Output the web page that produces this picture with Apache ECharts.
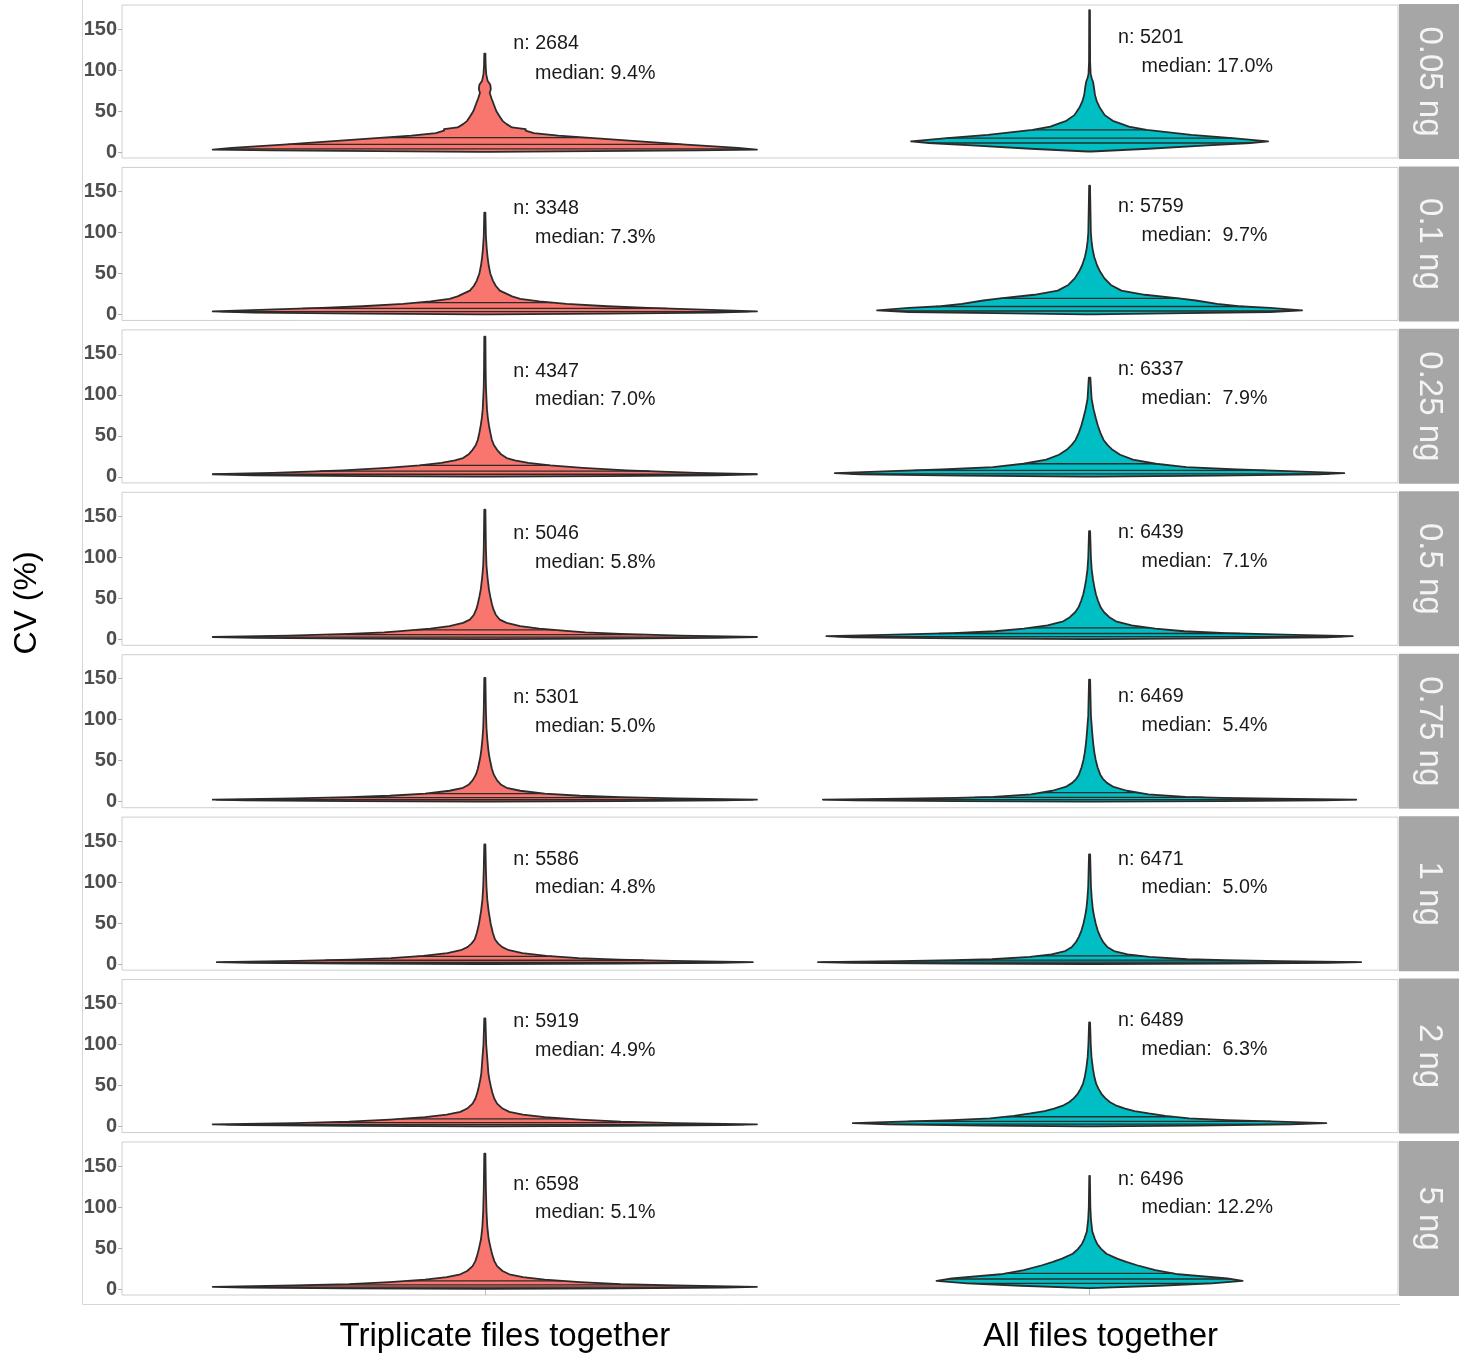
<!DOCTYPE html>
<html>
<head>
<meta charset="utf-8">
<script src="https://cdn.jsdelivr.net/npm/echarts@6/dist/echarts.min.js"></script>
<style>
html,body{margin:0;padding:0;background:#fff;}
#chart{width:1464px;height:1355px;}
</style>
</head>
<body>
<div id="chart"></div>
<script>
// ---------------- data ----------------
const doses = ['0.05 ng', '0.1 ng', '0.25 ng', '0.5 ng', '0.75 ng', '1 ng', '2 ng', '5 ng'];
const groups = ['Triplicate files together', 'All files together'];
// [triplicate, all] per dose
const nCounts = [[2684, 5201], [3348, 5759], [4347, 6337], [5046, 6439], [5301, 6469], [5586, 6471], [5919, 6489], [6598, 6496]];
const medians = [[9.4, 17.0], [7.3, 9.7], [7.0, 7.9], [5.8, 7.1], [5.0, 5.4], [4.8, 5.0], [4.9, 6.3], [5.1, 12.2]];
const q25 = [[3.8, 11], [3.4, 4.2], [3.2, 3.6], [2.7, 3.3], [2.4, 2.6], [2.3, 2.4], [2.3, 3.0], [2.4, 7]];
const q75 = [[17.5, 27], [14.5, 19.5], [14, 16], [11.5, 14], [10, 11], [9.5, 10], [9.5, 12], [10, 19]];
// relative violin width (widest violin = 1)
const relWidth = [[1, 0.656], [1, 0.781], [1, 0.936], [1, 0.967], [1, 0.98], [0.985, 0.998], [1, 0.87], [1, 0.5625]];
// density profiles: [CV %, relative density]
const profiles = [
  [ // 0.05 ng
    [[0.2,0.02],[1,0.4],[2,0.78],[3,1],[5,0.93],[9,0.74],[13,0.57],[17,0.4],[20,0.27],[23,0.18],[26,0.15],[28,0.15],[30,0.1],[34,0.08],[38,0.065],[43,0.055],[50,0.042],[58,0.033],[65,0.025],[72,0.018],[77,0.022],[82,0.02],[87,0.01],[95,0.005],[105,0.003],[120,0.002]],
    [[0.6,0.01],[4,0.33],[8,0.66],[11,0.9],[13,1],[17,0.8],[21,0.57],[27,0.32],[31,0.22],[35,0.17],[38,0.13],[45,0.085],[55,0.055],[62,0.04],[70,0.03],[78,0.025],[85,0.02],[90,0.012],[95,0.006],[110,0.003],[173,0.002]]
  ],
  [ // 0.1 ng
    [[0.2,0.02],[1,0.45],[2.2,0.85],[3.7,1],[6,0.8],[8,0.6],[10,0.45],[13,0.3],[16,0.2],[19,0.13],[22,0.1],[26,0.075],[29,0.055],[35,0.04],[41,0.03],[50,0.02],[60,0.014],[70,0.01],[80,0.007],[95,0.004],[124,0.002]],
    [[0.2,0.02],[1.5,0.45],[3,0.85],[5,1],[8,0.85],[10,0.7],[13,0.6],[17,0.5],[19.5,0.42],[24,0.26],[29,0.15],[36,0.1],[44,0.07],[52,0.05],[60,0.035],[70,0.022],[80,0.014],[90,0.009],[100,0.006],[157,0.002]]
  ],
  [ // 0.25 ng
    [[0.2,0.02],[1,0.45],[2,0.85],[3.2,1],[5,0.78],[8,0.52],[11,0.36],[14,0.24],[17,0.16],[20,0.11],[23,0.08],[28,0.058],[33,0.045],[39,0.033],[45,0.026],[54,0.02],[63,0.015],[72,0.011],[82,0.008],[95,0.006],[110,0.004],[130,0.003],[171,0.002]],
    [[0.2,0.02],[1.5,0.5],[3,0.9],[4.5,1],[7,0.78],[9,0.58],[12,0.38],[16,0.26],[21,0.17],[27,0.12],[33,0.09],[39,0.07],[45,0.055],[54,0.042],[63,0.032],[72,0.024],[82,0.016],[95,0.008],[121,0.003]]
  ],
  [ // 0.5 ng
    [[0.2,0.02],[0.8,0.45],[1.8,0.85],[2.8,1],[4.5,0.72],[6.5,0.5],[8.5,0.37],[10,0.31],[13,0.2],[16,0.13],[20,0.08],[24,0.055],[30,0.04],[37,0.031],[43,0.026],[52,0.02],[61,0.015],[75,0.01],[90,0.006],[110,0.004],[158,0.002]],
    [[0.2,0.02],[1.2,0.5],[2.5,0.9],[3.8,1],[5.5,0.78],[7.5,0.52],[9.8,0.36],[13,0.25],[17,0.16],[22,0.1],[27,0.075],[33,0.055],[39,0.042],[47,0.032],[55,0.024],[64,0.018],[73,0.013],[85,0.008],[100,0.005],[132,0.002]]
  ],
  [ // 0.75 ng
    [[0.2,0.02],[0.8,0.5],[1.6,0.88],[2.5,1],[4,0.7],[5.5,0.5],[7.3,0.35],[10,0.22],[13.4,0.13],[17,0.08],[20.7,0.06],[26,0.045],[33,0.033],[40,0.026],[49,0.02],[56,0.016],[63,0.013],[76,0.009],[90,0.006],[110,0.004],[151,0.002]],
    [[0.2,0.02],[0.8,0.5],[1.6,0.88],[2.6,1],[3.8,0.7],[4.8,0.5],[6,0.36],[9,0.22],[13.4,0.14],[18,0.09],[23,0.065],[28,0.05],[33,0.04],[42,0.03],[51,0.023],[60,0.018],[70,0.014],[80,0.011],[88,0.009],[105,0.005],[149,0.002]]
  ],
  [ // 1 ng
    [[0.2,0.02],[0.8,0.5],[1.6,0.88],[2.5,1],[4,0.7],[5.5,0.5],[7.3,0.35],[10,0.23],[13.4,0.14],[17,0.09],[20.7,0.065],[25,0.05],[30,0.038],[38,0.03],[49,0.022],[57,0.018],[65,0.014],[79,0.009],[95,0.006],[115,0.004],[146,0.002]],
    [[0.2,0.02],[0.8,0.5],[1.6,0.88],[2.5,1],[3.8,0.7],[4.8,0.5],[6,0.36],[9,0.22],[12,0.14],[16,0.09],[21,0.065],[27,0.05],[33,0.04],[41,0.03],[49,0.023],[58,0.017],[67,0.012],[80,0.008],[95,0.005],[134,0.002]]
  ],
  [ // 2 ng
    [[0.2,0.02],[0.8,0.5],[1.7,0.88],[2.7,1],[4.3,0.7],[6,0.5],[8.5,0.35],[11.5,0.22],[14.6,0.14],[18,0.09],[22,0.065],[28,0.045],[34,0.035],[41,0.028],[49,0.022],[57,0.017],[65,0.013],[83,0.009],[100,0.005],[132,0.002]],
    [[0.2,0.02],[1.2,0.45],[2.6,0.85],[4.2,1],[6,0.8],[8,0.58],[10,0.42],[13,0.32],[16,0.25],[19,0.19],[22,0.15],[26,0.11],[30,0.085],[35,0.065],[40,0.05],[46,0.038],[52,0.028],[61,0.02],[71,0.014],[85,0.008],[100,0.005],[127,0.002]]
  ],
  [ // 5 ng
    [[0.2,0.02],[0.8,0.5],[1.7,0.88],[2.7,1],[4.3,0.7],[6,0.5],[8.5,0.35],[11.5,0.22],[14.6,0.14],[18,0.09],[22,0.065],[28,0.045],[34,0.035],[41,0.028],[49,0.022],[55,0.018],[61,0.014],[76,0.009],[95,0.006],[120,0.004],[165,0.002]],
    [[1,0.01],[4,0.45],[7,0.8],[10,1],[13,0.9],[18,0.58],[23,0.43],[29,0.31],[33,0.24],[37,0.18],[43,0.11],[49,0.075],[55,0.05],[61,0.035],[70,0.018],[85,0.009],[100,0.005],[138,0.002]]
  ]
];
const yTicks = [0, 50, 100, 150];
// annotation anchor heights (CV units)
const nLabelY = [[132, 139], [129, 132], [129, 130.5], [129, 130.5], [127, 128], [127, 128], [128, 129], [127, 134]];
const medLabelY = [[96, 104], [94, 96], [94, 95], [94, 95], [91.5, 93], [93, 93], [93, 94], [93, 99]];

// ---------------- layout / style ----------------
const fills = ['#F8766D', '#00BFC4'];
const PANEL_TOP = 5, PANEL_STEP = 162.43, PANEL_H = 153;
const GRID_LEFT = 122, GRID_W = 1276;
const X_MIN = 0.4, X_MAX = 2.51;
const Y_MIN = -7.3, Y_MAX = 179.3;
const HALF_W = 0.45;
const FONT = '"Liberation Sans", Arial, Helvetica, sans-serif';

function interp(prof, v) {
  if (v <= prof[0][0]) return prof[0][1];
  for (let i = 1; i < prof.length; i++) {
    if (v <= prof[i][0]) {
      const a = prof[i - 1], b = prof[i];
      return a[1] + (b[1] - a[1]) * (v - a[0]) / (b[0] - a[0]);
    }
  }
  return prof[prof.length - 1][1];
}
function fmtMed(v, col) {
  const s = v.toFixed(1);
  return 'median: ' + (col === 1 && s.length < 4 ? ' ' + s : s) + '%';
}

const chart = echarts.init(document.getElementById('chart'), null, { renderer: 'canvas' });

const grid = [], xAxis = [], yAxis = [], series = [], graphic = [];
doses.forEach((d, i) => {
  const top = PANEL_TOP + i * PANEL_STEP;
  const last = i === doses.length - 1;
  grid.push({ left: GRID_LEFT, width: GRID_W, top: top, height: PANEL_H, show: true, borderColor: '#cfcfcf', borderWidth: 1, backgroundColor: 'transparent' });
  xAxis.push({
    gridIndex: i, type: 'value', min: X_MIN, max: X_MAX,
    splitLine: { show: false }, axisLine: { show: false },
    axisTick: { show: last, customValues: [1, 2], length: 6, lineStyle: { color: '#bdbdbd' } },
    axisLabel: { show: last, customValues: [1, 2],
      formatter: v => (Math.round(v) === 1 ? '{a|' : '{b|') + (groups[Math.round(v) - 1] || '') + '}',
      rich: {
        a: { fontFamily: FONT, fontSize: 33, color: '#000', padding: [0, 0, 0, 40] },
        b: { fontFamily: FONT, fontSize: 33, color: '#000', padding: [0, 0, 0, 22] }
      },
      margin: 25 }
  });
  yAxis.push({
    gridIndex: i, type: 'value', min: Y_MIN, max: Y_MAX,
    splitLine: { show: false }, axisLine: { show: false },
    axisTick: { show: true, customValues: yTicks, length: 4, lineStyle: { color: '#b3b3b3' } },
    axisLabel: { customValues: yTicks, fontFamily: FONT, fontSize: 20, fontWeight: 'bold', color: '#4d4d4d', margin: 5 }
  });
  series.push({
    type: 'custom', xAxisIndex: i, yAxisIndex: i, clip: false,
    data: [[1], [2]],
    renderItem: function (params, api) {
      const col = params.dataIndex;
      const prof = profiles[i][col];
      const scale = HALF_W * relWidth[i][col];
      const cx = api.value(0);
      const right = prof.map(p => api.coord([cx + p[1] * scale, p[0]]));
      const left = prof.slice().reverse().map(p => api.coord([cx - p[1] * scale, p[0]]));
      const children = [{
        type: 'polygon', shape: { points: right.concat(left) },
        style: { fill: fills[col], stroke: '#2b2b2b', lineWidth: 1.8, lineJoin: 'round' }
      }];
      [q25[i][col], medians[i][col], q75[i][col]].forEach(q => {
        const w = interp(prof, q) * scale;
        const a = api.coord([cx - w, q]), b = api.coord([cx + w, q]);
        children.push({ type: 'line', shape: { x1: a[0], y1: a[1], x2: b[0], y2: b[1] }, style: { stroke: '#2b2b2b', lineWidth: 1.3 } });
      });
      const pn = api.coord([cx + 0.047, nLabelY[i][col]]);
      const pm = api.coord([cx + (col === 0 ? 0.083 : 0.086), medLabelY[i][col]]);
      children.push({ type: 'text', x: pn[0], y: pn[1], style: { text: 'n: ' + nCounts[i][col], fontFamily: FONT, fontSize: 19.7, fill: '#1a1a1a', align: 'left', verticalAlign: 'middle' } });
      children.push({ type: 'text', x: pm[0], y: pm[1], style: { text: fmtMed(medians[i][col], col), fontFamily: FONT, fontSize: 19.7, fill: '#1a1a1a', align: 'left', verticalAlign: 'middle' } });
      return { type: 'group', children: children };
    }
  });
  // facet strip
  graphic.push({
    type: 'group', left: 1399, top: top - 1,
    children: [
      { type: 'rect', shape: { x: 0, y: 0, width: 60, height: PANEL_H + 2 }, style: { fill: '#a6a6a6' } },
      { type: 'text', x: 30, y: (PANEL_H + 2) / 2, rotation: -Math.PI / 2,
        style: { text: d, fontFamily: FONT, fontSize: 33, fill: '#f4f4f4', align: 'center', verticalAlign: 'middle' } }
    ]
  });
});
// outer frame and axis title
graphic.push({ type: 'line', shape: { x1: 82.5, y1: 0, x2: 82.5, y2: 1304.5 }, style: { stroke: '#d6d6d6', lineWidth: 1 } });
graphic.push({ type: 'line', shape: { x1: 82.5, y1: 1304.5, x2: 1400, y2: 1304.5 }, style: { stroke: '#d6d6d6', lineWidth: 1 } });
graphic.push({ type: 'text', x: 27, y: 603, rotation: Math.PI / 2,
  style: { text: 'CV (%)', fontFamily: FONT, fontSize: 32, fill: '#000', align: 'center', verticalAlign: 'middle' } });

chart.setOption({
  animation: false,
  backgroundColor: '#ffffff',
  grid: grid, xAxis: xAxis, yAxis: yAxis, series: series, graphic: graphic
});
</script>
</body>
</html>
